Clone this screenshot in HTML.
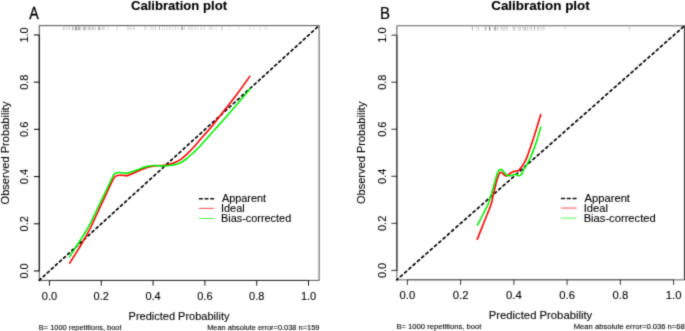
<!DOCTYPE html>
<html><head><meta charset="utf-8"><style>
html,body{margin:0;padding:0;background:#fff;overflow:hidden;}
svg{display:block;}
</style></head><body>
<svg width="685" height="331" viewBox="0 0 685 331" font-family='"Liberation Sans", sans-serif'>
<style>text{stroke:#000;stroke-width:0.1px;}</style>
<defs><filter id="bl" x="0" y="0" width="685" height="331" filterUnits="userSpaceOnUse" color-interpolation-filters="sRGB"><feConvolveMatrix order="3" kernelMatrix="0.0225 0.1050 0.0225 0.1050 0.4900 0.1050 0.0225 0.1050 0.0225" divisor="1" edgeMode="duplicate"/></filter></defs>
<g filter="url(#bl)">
<rect width="685" height="331" fill="#fff"/>
<g id="A">
<line x1="63.30" y1="26.50" x2="63.30" y2="30.30" stroke="#000" stroke-opacity="0.20" stroke-width="1"/>
<line x1="64.40" y1="26.50" x2="64.40" y2="30.30" stroke="#000" stroke-opacity="0.14" stroke-width="1"/>
<line x1="67.00" y1="26.50" x2="67.00" y2="30.30" stroke="#000" stroke-opacity="0.20" stroke-width="1"/>
<line x1="69.20" y1="26.50" x2="69.20" y2="30.30" stroke="#000" stroke-opacity="0.20" stroke-width="1"/>
<line x1="72.30" y1="26.50" x2="72.30" y2="30.30" stroke="#000" stroke-opacity="0.24" stroke-width="1"/>
<line x1="73.10" y1="26.50" x2="73.10" y2="30.30" stroke="#000" stroke-opacity="0.20" stroke-width="1"/>
<line x1="75.30" y1="26.50" x2="75.30" y2="30.30" stroke="#000" stroke-opacity="0.31" stroke-width="1"/>
<line x1="76.00" y1="26.50" x2="76.00" y2="30.30" stroke="#000" stroke-opacity="0.31" stroke-width="1"/>
<line x1="76.60" y1="26.50" x2="76.60" y2="30.30" stroke="#000" stroke-opacity="0.31" stroke-width="1"/>
<line x1="78.40" y1="26.50" x2="78.40" y2="30.30" stroke="#000" stroke-opacity="0.34" stroke-width="1"/>
<line x1="79.30" y1="26.50" x2="79.30" y2="30.30" stroke="#000" stroke-opacity="0.34" stroke-width="1"/>
<line x1="80.60" y1="26.50" x2="80.60" y2="30.30" stroke="#000" stroke-opacity="0.20" stroke-width="1"/>
<line x1="83.20" y1="26.50" x2="83.20" y2="30.30" stroke="#000" stroke-opacity="0.27" stroke-width="1"/>
<line x1="84.30" y1="26.50" x2="84.30" y2="30.30" stroke="#000" stroke-opacity="0.27" stroke-width="1"/>
<line x1="85.40" y1="26.50" x2="85.40" y2="30.30" stroke="#000" stroke-opacity="0.27" stroke-width="1"/>
<line x1="87.20" y1="26.50" x2="87.20" y2="30.30" stroke="#000" stroke-opacity="0.17" stroke-width="1"/>
<line x1="88.90" y1="26.50" x2="88.90" y2="30.30" stroke="#000" stroke-opacity="0.20" stroke-width="1"/>
<line x1="89.30" y1="26.50" x2="89.30" y2="30.30" stroke="#000" stroke-opacity="0.24" stroke-width="1"/>
<line x1="90.80" y1="26.50" x2="90.80" y2="30.30" stroke="#000" stroke-opacity="0.17" stroke-width="1"/>
<line x1="92.40" y1="26.50" x2="92.40" y2="30.30" stroke="#000" stroke-opacity="0.24" stroke-width="1"/>
<line x1="93.30" y1="26.50" x2="93.30" y2="30.30" stroke="#000" stroke-opacity="0.17" stroke-width="1"/>
<line x1="95.00" y1="26.50" x2="95.00" y2="30.30" stroke="#000" stroke-opacity="0.24" stroke-width="1"/>
<line x1="98.50" y1="26.50" x2="98.50" y2="30.30" stroke="#000" stroke-opacity="0.31" stroke-width="1"/>
<line x1="99.40" y1="26.50" x2="99.40" y2="30.30" stroke="#000" stroke-opacity="0.31" stroke-width="1"/>
<line x1="101.10" y1="26.50" x2="101.10" y2="30.30" stroke="#000" stroke-opacity="0.14" stroke-width="1"/>
<line x1="102.30" y1="26.50" x2="102.30" y2="30.30" stroke="#000" stroke-opacity="0.14" stroke-width="1"/>
<line x1="103.50" y1="26.50" x2="103.50" y2="30.30" stroke="#000" stroke-opacity="0.14" stroke-width="1"/>
<line x1="104.60" y1="26.50" x2="104.60" y2="30.30" stroke="#000" stroke-opacity="0.14" stroke-width="1"/>
<line x1="108.10" y1="26.50" x2="108.10" y2="30.30" stroke="#000" stroke-opacity="0.17" stroke-width="1"/>
<line x1="116.50" y1="26.50" x2="116.50" y2="30.30" stroke="#000" stroke-opacity="0.14" stroke-width="1"/>
<line x1="117.80" y1="26.50" x2="117.80" y2="30.30" stroke="#000" stroke-opacity="0.08" stroke-width="1"/>
<line x1="127.40" y1="26.50" x2="127.40" y2="30.30" stroke="#000" stroke-opacity="0.14" stroke-width="1"/>
<line x1="128.70" y1="26.50" x2="128.70" y2="30.30" stroke="#000" stroke-opacity="0.14" stroke-width="1"/>
<line x1="130.00" y1="26.50" x2="130.00" y2="30.30" stroke="#000" stroke-opacity="0.14" stroke-width="1"/>
<line x1="131.30" y1="26.50" x2="131.30" y2="30.30" stroke="#000" stroke-opacity="0.14" stroke-width="1"/>
<line x1="133.50" y1="26.50" x2="133.50" y2="30.30" stroke="#000" stroke-opacity="0.14" stroke-width="1"/>
<line x1="134.40" y1="26.50" x2="134.40" y2="30.30" stroke="#000" stroke-opacity="0.14" stroke-width="1"/>
<line x1="144.50" y1="26.50" x2="144.50" y2="30.30" stroke="#000" stroke-opacity="0.17" stroke-width="1"/>
<line x1="146.60" y1="26.50" x2="146.60" y2="30.30" stroke="#000" stroke-opacity="0.14" stroke-width="1"/>
<line x1="151.00" y1="26.50" x2="151.00" y2="30.30" stroke="#000" stroke-opacity="0.20" stroke-width="1"/>
<line x1="153.20" y1="26.50" x2="153.20" y2="30.30" stroke="#000" stroke-opacity="0.20" stroke-width="1"/>
<line x1="155.40" y1="26.50" x2="155.40" y2="30.30" stroke="#000" stroke-opacity="0.20" stroke-width="1"/>
<line x1="159.30" y1="26.50" x2="159.30" y2="30.30" stroke="#000" stroke-opacity="0.31" stroke-width="1"/>
<line x1="162.40" y1="26.50" x2="162.40" y2="30.30" stroke="#000" stroke-opacity="0.14" stroke-width="1"/>
<line x1="164.60" y1="26.50" x2="164.60" y2="30.30" stroke="#000" stroke-opacity="0.14" stroke-width="1"/>
<line x1="167.20" y1="26.50" x2="167.20" y2="30.30" stroke="#000" stroke-opacity="0.14" stroke-width="1"/>
<line x1="169.80" y1="26.50" x2="169.80" y2="30.30" stroke="#000" stroke-opacity="0.20" stroke-width="1"/>
<line x1="172.50" y1="26.50" x2="172.50" y2="30.30" stroke="#000" stroke-opacity="0.14" stroke-width="1"/>
<line x1="175.30" y1="26.50" x2="175.30" y2="30.30" stroke="#000" stroke-opacity="0.20" stroke-width="1"/>
<line x1="178.10" y1="26.50" x2="178.10" y2="30.30" stroke="#000" stroke-opacity="0.14" stroke-width="1"/>
<line x1="181.60" y1="26.50" x2="181.60" y2="30.30" stroke="#000" stroke-opacity="0.31" stroke-width="1"/>
<line x1="182.50" y1="26.50" x2="182.50" y2="30.30" stroke="#000" stroke-opacity="0.31" stroke-width="1"/>
<line x1="184.70" y1="26.50" x2="184.70" y2="30.30" stroke="#000" stroke-opacity="0.20" stroke-width="1"/>
<line x1="188.20" y1="26.50" x2="188.20" y2="30.30" stroke="#000" stroke-opacity="0.14" stroke-width="1"/>
<line x1="189.70" y1="26.50" x2="189.70" y2="30.30" stroke="#000" stroke-opacity="0.14" stroke-width="1"/>
<line x1="191.20" y1="26.50" x2="191.20" y2="30.30" stroke="#000" stroke-opacity="0.14" stroke-width="1"/>
<line x1="192.60" y1="26.50" x2="192.60" y2="30.30" stroke="#000" stroke-opacity="0.14" stroke-width="1"/>
<line x1="195.20" y1="26.50" x2="195.20" y2="30.30" stroke="#000" stroke-opacity="0.17" stroke-width="1"/>
<line x1="197.40" y1="26.50" x2="197.40" y2="30.30" stroke="#000" stroke-opacity="0.17" stroke-width="1"/>
<line x1="200.50" y1="26.50" x2="200.50" y2="30.30" stroke="#000" stroke-opacity="0.10" stroke-width="1"/>
<line x1="201.80" y1="26.50" x2="201.80" y2="30.30" stroke="#000" stroke-opacity="0.14" stroke-width="1"/>
<line x1="204.40" y1="26.50" x2="204.40" y2="30.30" stroke="#000" stroke-opacity="0.17" stroke-width="1"/>
<line x1="209.20" y1="26.50" x2="209.20" y2="30.30" stroke="#000" stroke-opacity="0.10" stroke-width="1"/>
<line x1="210.50" y1="26.50" x2="210.50" y2="30.30" stroke="#000" stroke-opacity="0.10" stroke-width="1"/>
<line x1="211.80" y1="26.50" x2="211.80" y2="30.30" stroke="#000" stroke-opacity="0.10" stroke-width="1"/>
<line x1="213.10" y1="26.50" x2="213.10" y2="30.30" stroke="#000" stroke-opacity="0.10" stroke-width="1"/>
<line x1="216.20" y1="26.50" x2="216.20" y2="30.30" stroke="#000" stroke-opacity="0.14" stroke-width="1"/>
<line x1="221.50" y1="26.50" x2="221.50" y2="30.30" stroke="#000" stroke-opacity="0.14" stroke-width="1"/>
<line x1="222.30" y1="26.50" x2="222.30" y2="30.30" stroke="#000" stroke-opacity="0.14" stroke-width="1"/>
<line x1="229.30" y1="26.50" x2="229.30" y2="30.30" stroke="#000" stroke-opacity="0.08" stroke-width="1"/>
<line x1="238.90" y1="26.50" x2="238.90" y2="30.30" stroke="#000" stroke-opacity="0.14" stroke-width="1"/>
<line x1="249.80" y1="26.50" x2="249.80" y2="30.30" stroke="#000" stroke-opacity="0.14" stroke-width="1"/>
<line x1="253.70" y1="26.50" x2="253.70" y2="30.30" stroke="#000" stroke-opacity="0.14" stroke-width="1"/>
<line x1="260.10" y1="26.50" x2="260.10" y2="30.30" stroke="#000" stroke-opacity="0.14" stroke-width="1"/>
<line x1="264.60" y1="26.50" x2="264.60" y2="30.30" stroke="#000" stroke-opacity="0.10" stroke-width="1"/>
<line x1="266.20" y1="26.50" x2="266.20" y2="30.30" stroke="#000" stroke-opacity="0.10" stroke-width="1"/>
<line x1="267.80" y1="26.50" x2="267.80" y2="30.30" stroke="#000" stroke-opacity="0.10" stroke-width="1"/>
<path d="M39.22 280.29L40.92 278.75 M43.29 276.59L44.99 275.04 M47.36 272.89L49.06 271.34 M51.43 269.18L53.13 267.64 M55.50 265.48L57.20 263.93 M59.56 261.78L61.27 260.23 M63.63 258.07L65.34 256.53 M67.70 254.37L69.41 252.82 M71.77 250.67L73.48 249.12 M75.84 246.96L77.54 245.42 M79.91 243.26L81.61 241.71 M83.98 239.56L85.68 238.01 M88.05 235.85L89.75 234.31 M92.12 232.15L93.82 230.60 M96.19 228.45L97.89 226.90 M100.26 224.74L101.96 223.19 M104.33 221.04L106.03 219.49 M108.40 217.34L110.10 215.79 M112.47 213.63L114.17 212.08 M116.54 209.93L118.24 208.38 M120.61 206.23L122.31 204.68 M124.68 202.52L126.38 200.97 M128.86 198.72L130.56 197.17 M133.04 194.92L134.74 193.37 M137.22 191.11L138.92 189.56 M141.40 187.31L143.10 185.76 M145.58 183.50L147.28 181.96 M149.76 179.70L151.46 178.15 M153.94 175.90L155.64 174.35 M158.12 172.09L159.82 170.55 M162.30 168.29L164.00 166.74 M166.48 164.49L168.18 162.94 M170.66 160.68L172.36 159.14 M174.84 156.88L176.54 155.33 M179.02 153.08L180.72 151.53 M183.20 149.27L184.90 147.73 M187.38 145.47L189.08 143.92 M191.55 141.67L193.26 140.12 M195.73 137.86L197.44 136.31 M199.91 134.06L201.62 132.51 M204.09 130.26L205.80 128.71 M208.27 126.45L209.97 124.90 M212.45 122.65L214.15 121.10 M216.63 118.84L218.33 117.30 M220.81 115.04L222.51 113.49 M224.99 111.24L226.69 109.69 M229.17 107.43L230.87 105.89 M233.35 103.63L235.05 102.08 M237.53 99.83L239.23 98.28 M241.71 96.02L243.41 94.48 M245.89 92.22L247.59 90.67 M250.07 88.42L251.77 86.87 M254.25 84.61L255.95 83.07 M258.43 80.81L260.13 79.26 M262.52 77.09L264.22 75.54 M266.61 73.37L268.31 71.82 M270.70 69.64L272.40 68.10 M274.79 65.92L276.49 64.37 M278.88 62.20L280.58 60.65 M282.97 58.48L284.67 56.93 M287.06 54.76L288.76 53.21 M291.15 51.03L292.85 49.49 M295.24 47.31L296.94 45.76 M299.33 43.59L301.03 42.04 M303.42 39.87L305.12 38.32 M307.51 36.15L309.21 34.60 M311.60 32.42L313.30 30.88 M315.69 28.70L317.39 27.15" fill="none" stroke="#000" stroke-width="1.7" stroke-linecap="round"/>
<path d="M69.30 263.70 C71.00 260.97 76.15 252.92 79.50 247.30 C82.85 241.68 86.27 236.05 89.40 230.00 C92.53 223.95 95.33 217.33 98.30 211.00 C101.27 204.67 104.63 197.45 107.20 192.00 C109.77 186.55 112.00 181.03 113.70 178.30 C115.40 175.57 116.02 176.10 117.40 175.60 C118.78 175.10 120.22 175.33 122.00 175.30 C123.78 175.27 125.57 176.03 128.10 175.40 C130.63 174.77 134.17 172.78 137.20 171.50 C140.23 170.22 143.43 168.62 146.30 167.70 C149.17 166.78 151.38 166.42 154.40 166.00 C157.42 165.58 161.58 165.57 164.40 165.20 C167.22 164.83 168.90 164.57 171.30 163.80 C173.70 163.03 176.32 162.10 178.80 160.60 C181.28 159.10 183.73 157.02 186.20 154.80 C188.67 152.58 191.30 149.80 193.60 147.30 C195.90 144.80 196.85 143.45 200.00 139.80 C203.15 136.15 208.33 130.45 212.50 125.40 C216.67 120.35 220.83 114.83 225.00 109.50 C229.17 104.17 233.30 99.00 237.50 93.40 C241.70 87.80 248.08 78.82 250.20 75.90" fill="none" stroke="#ff0000" stroke-width="1.6" stroke-linejoin="round" stroke-linecap="butt"/>
<path d="M69.20 257.20 C70.00 256.02 72.23 252.80 74.00 250.10 C75.77 247.40 77.88 244.02 79.80 241.00 C81.72 237.98 83.63 235.17 85.50 232.00 C87.37 228.83 89.20 225.50 91.00 222.00 C92.80 218.50 93.88 216.00 96.30 211.00 C98.72 206.00 102.73 197.78 105.50 192.00 C108.27 186.22 111.28 179.43 112.90 176.30 C114.52 173.17 114.27 173.83 115.20 173.20 C116.13 172.57 116.35 172.53 118.50 172.50 C120.65 172.47 124.98 173.45 128.10 173.00 C131.22 172.55 134.17 170.87 137.20 169.80 C140.23 168.73 143.43 167.32 146.30 166.60 C149.17 165.88 151.98 165.62 154.40 165.50 C156.82 165.38 159.03 165.83 160.80 165.90 C162.57 165.97 163.25 166.00 165.00 165.90 C166.75 165.80 169.00 165.68 171.30 165.30 C173.60 164.92 176.32 164.65 178.80 163.60 C181.28 162.55 183.57 161.00 186.20 159.00 C188.83 157.00 192.30 153.72 194.60 151.60 C196.90 149.48 198.40 147.98 200.00 146.30 C201.60 144.62 201.70 144.33 204.20 141.50 C206.70 138.67 210.70 134.15 215.00 129.30 C219.30 124.45 224.07 119.23 230.00 112.40 C235.93 105.57 247.17 92.32 250.60 88.30" fill="none" stroke="#00f000" stroke-width="1.6" stroke-linejoin="round" stroke-linecap="butt"/>
<text x="179.00" y="9.5" font-size="13.1" font-weight="bold" text-anchor="middle" fill="#000">Calibration plot</text>
<rect x="39.30" y="25.60" width="279.80" height="254.80" fill="none" stroke="#000" stroke-opacity="0.66" stroke-width="1.05"/>
<path d="M49.46 280.40H308.53" fill="none" stroke="#000" stroke-opacity="0.55" stroke-width="1.05"/>
<path d="M39.30 270.96V34.96" fill="none" stroke="#000" stroke-opacity="0.80" stroke-width="1.2"/>
<line x1="49.46" y1="280.40" x2="49.46" y2="285.70" stroke="#000" stroke-opacity="0.92" stroke-width="1.0"/>
<text x="49.46" y="299.8" font-size="11" text-anchor="middle" fill="#000">0.0</text>
<line x1="101.27" y1="280.40" x2="101.27" y2="285.70" stroke="#000" stroke-opacity="0.92" stroke-width="1.0"/>
<text x="101.27" y="299.8" font-size="11" text-anchor="middle" fill="#000">0.2</text>
<line x1="153.09" y1="280.40" x2="153.09" y2="285.70" stroke="#000" stroke-opacity="0.92" stroke-width="1.0"/>
<text x="153.09" y="299.8" font-size="11" text-anchor="middle" fill="#000">0.4</text>
<line x1="204.90" y1="280.40" x2="204.90" y2="285.70" stroke="#000" stroke-opacity="0.92" stroke-width="1.0"/>
<text x="204.90" y="299.8" font-size="11" text-anchor="middle" fill="#000">0.6</text>
<line x1="256.72" y1="280.40" x2="256.72" y2="285.70" stroke="#000" stroke-opacity="0.92" stroke-width="1.0"/>
<text x="256.72" y="299.8" font-size="11" text-anchor="middle" fill="#000">0.8</text>
<line x1="308.53" y1="280.40" x2="308.53" y2="285.70" stroke="#000" stroke-opacity="0.92" stroke-width="1.0"/>
<text x="308.53" y="299.8" font-size="11" text-anchor="middle" fill="#000">1.0</text>
<line x1="33.90" y1="270.96" x2="39.30" y2="270.96" stroke="#000" stroke-opacity="0.92" stroke-width="1.1"/>
<text transform="translate(28.4 270.96) rotate(-90)" font-size="11" text-anchor="middle" fill="#000">0.0</text>
<line x1="33.90" y1="223.76" x2="39.30" y2="223.76" stroke="#000" stroke-opacity="0.92" stroke-width="1.1"/>
<text transform="translate(28.4 223.76) rotate(-90)" font-size="11" text-anchor="middle" fill="#000">0.2</text>
<line x1="33.90" y1="176.56" x2="39.30" y2="176.56" stroke="#000" stroke-opacity="0.92" stroke-width="1.1"/>
<text transform="translate(28.4 176.56) rotate(-90)" font-size="11" text-anchor="middle" fill="#000">0.4</text>
<line x1="33.90" y1="129.36" x2="39.30" y2="129.36" stroke="#000" stroke-opacity="0.92" stroke-width="1.1"/>
<text transform="translate(28.4 129.36) rotate(-90)" font-size="11" text-anchor="middle" fill="#000">0.6</text>
<line x1="33.90" y1="82.16" x2="39.30" y2="82.16" stroke="#000" stroke-opacity="0.92" stroke-width="1.1"/>
<text transform="translate(28.4 82.16) rotate(-90)" font-size="11" text-anchor="middle" fill="#000">0.8</text>
<line x1="33.90" y1="34.96" x2="39.30" y2="34.96" stroke="#000" stroke-opacity="0.92" stroke-width="1.1"/>
<text transform="translate(28.4 34.96) rotate(-90)" font-size="11" text-anchor="middle" fill="#000">1.0</text>
<text x="179.00" y="319.8" font-size="11" text-anchor="middle" fill="#000">Predicted Probability</text>
<text transform="translate(8.5 153.00) rotate(-90)" font-size="11.1" text-anchor="middle" fill="#000">Observed Probability</text>
<line x1="199.4" y1="198.8" x2="213.6" y2="198.8" stroke="#111" stroke-width="1.5" stroke-linecap="round" stroke-dasharray="2.9 2.75"/>
<line x1="198.9" y1="208.4" x2="214.2" y2="208.4" stroke="#ff3030" stroke-opacity="0.85" stroke-width="1"/>
<line x1="198.9" y1="218.5" x2="214.2" y2="218.5" stroke="#30ff30" stroke-opacity="0.85" stroke-width="1"/>
<text x="221.9" y="202.4" font-size="10.9" fill="#000">Apparent</text>
<text x="221.0" y="212.2" font-size="10.9" fill="#000">Ideal</text>
<text x="221.0" y="222.2" font-size="10.9" fill="#000">Bias-corrected</text>
<text transform="translate(38.8 329.5) scale(0.917 1)" font-size="8.1" fill="#000">B= 1000 repetitions, boot</text>
<text transform="translate(319.40 329.5) scale(0.917 1)" font-size="8.1" text-anchor="end" fill="#000">Mean absolute error=0.038 n=159</text>
</g>
<g transform="translate(396.75 25.7) scale(1.0275 0.997) translate(-39.1 -25.5)">
<line x1="112.73" y1="26.50" x2="112.73" y2="30.30" stroke="#000" stroke-opacity="0.32" stroke-width="1"/>
<line x1="117.01" y1="26.50" x2="117.01" y2="30.30" stroke="#000" stroke-opacity="0.16" stroke-width="1"/>
<line x1="118.66" y1="26.50" x2="118.66" y2="30.30" stroke="#000" stroke-opacity="0.20" stroke-width="1"/>
<line x1="125.09" y1="26.50" x2="125.09" y2="30.30" stroke="#000" stroke-opacity="0.24" stroke-width="1"/>
<line x1="125.96" y1="26.50" x2="125.96" y2="30.30" stroke="#000" stroke-opacity="0.24" stroke-width="1"/>
<line x1="129.37" y1="26.50" x2="129.37" y2="30.30" stroke="#000" stroke-opacity="0.36" stroke-width="1"/>
<line x1="129.76" y1="26.50" x2="129.76" y2="30.30" stroke="#000" stroke-opacity="0.36" stroke-width="1"/>
<line x1="134.04" y1="26.50" x2="134.04" y2="30.30" stroke="#000" stroke-opacity="0.36" stroke-width="1"/>
<line x1="135.30" y1="26.50" x2="135.30" y2="30.30" stroke="#000" stroke-opacity="0.36" stroke-width="1"/>
<line x1="137.45" y1="26.50" x2="137.45" y2="30.30" stroke="#000" stroke-opacity="0.24" stroke-width="1"/>
<line x1="140.85" y1="26.50" x2="140.85" y2="30.30" stroke="#000" stroke-opacity="0.20" stroke-width="1"/>
<line x1="142.51" y1="26.50" x2="142.51" y2="30.30" stroke="#000" stroke-opacity="0.20" stroke-width="1"/>
<line x1="144.26" y1="26.50" x2="144.26" y2="30.30" stroke="#000" stroke-opacity="0.20" stroke-width="1"/>
<line x1="146.40" y1="26.50" x2="146.40" y2="30.30" stroke="#000" stroke-opacity="0.28" stroke-width="1"/>
<line x1="152.34" y1="26.50" x2="152.34" y2="30.30" stroke="#000" stroke-opacity="0.16" stroke-width="1"/>
<line x1="153.21" y1="26.50" x2="153.21" y2="30.30" stroke="#000" stroke-opacity="0.16" stroke-width="1"/>
<line x1="153.99" y1="26.50" x2="153.99" y2="30.30" stroke="#000" stroke-opacity="0.16" stroke-width="1"/>
<line x1="157.88" y1="26.50" x2="157.88" y2="30.30" stroke="#000" stroke-opacity="0.28" stroke-width="1"/>
<line x1="159.54" y1="26.50" x2="159.54" y2="30.30" stroke="#000" stroke-opacity="0.20" stroke-width="1"/>
<line x1="162.17" y1="26.50" x2="162.17" y2="30.30" stroke="#000" stroke-opacity="0.20" stroke-width="1"/>
<line x1="163.82" y1="26.50" x2="163.82" y2="30.30" stroke="#000" stroke-opacity="0.20" stroke-width="1"/>
<line x1="164.21" y1="26.50" x2="164.21" y2="30.30" stroke="#000" stroke-opacity="0.24" stroke-width="1"/>
<line x1="166.35" y1="26.50" x2="166.35" y2="30.30" stroke="#000" stroke-opacity="0.24" stroke-width="1"/>
<line x1="168.49" y1="26.50" x2="168.49" y2="30.30" stroke="#000" stroke-opacity="0.12" stroke-width="1"/>
<line x1="170.15" y1="26.50" x2="170.15" y2="30.30" stroke="#000" stroke-opacity="0.24" stroke-width="1"/>
<line x1="173.16" y1="26.50" x2="173.16" y2="30.30" stroke="#000" stroke-opacity="0.32" stroke-width="1"/>
<line x1="176.18" y1="26.50" x2="176.18" y2="30.30" stroke="#000" stroke-opacity="0.20" stroke-width="1"/>
<line x1="177.45" y1="26.50" x2="177.45" y2="30.30" stroke="#000" stroke-opacity="0.20" stroke-width="1"/>
<line x1="179.59" y1="26.50" x2="179.59" y2="30.30" stroke="#000" stroke-opacity="0.12" stroke-width="1"/>
<line x1="180.75" y1="26.50" x2="180.75" y2="30.30" stroke="#000" stroke-opacity="0.12" stroke-width="1"/>
<line x1="181.92" y1="26.50" x2="181.92" y2="30.30" stroke="#000" stroke-opacity="0.12" stroke-width="1"/>
<line x1="182.99" y1="26.50" x2="182.99" y2="30.30" stroke="#000" stroke-opacity="0.12" stroke-width="1"/>
<line x1="202.75" y1="26.50" x2="202.75" y2="30.30" stroke="#000" stroke-opacity="0.16" stroke-width="1"/>
<line x1="265.43" y1="26.50" x2="265.43" y2="30.30" stroke="#000" stroke-opacity="0.20" stroke-width="1"/>
<path d="M39.10 280.40L40.22 279.38 M42.69 277.14L44.39 275.59 M46.85 273.35L48.55 271.80 M51.02 269.56L52.72 268.01 M55.18 265.77L56.88 264.22 M59.34 261.98L61.04 260.43 M63.51 258.19L65.21 256.64 M67.67 254.40L69.37 252.85 M71.83 250.61L73.54 249.06 M76.00 246.82L77.70 245.27 M80.16 243.03L81.86 241.48 M84.33 239.24L86.03 237.70 M88.49 235.45L90.19 233.91 M92.65 231.67L94.36 230.12 M96.82 227.88L98.52 226.33 M100.98 224.09L102.68 222.54 M105.15 220.30L106.85 218.75 M109.31 216.51L111.01 214.96 M113.47 212.72L115.18 211.17 M117.64 208.93L119.34 207.38 M121.80 205.14L123.50 203.59 M125.97 201.35L127.67 199.80 M130.13 197.56L131.83 196.01 M134.29 193.77L136.00 192.22 M138.46 189.98L140.16 188.44 M142.62 186.19L144.32 184.65 M146.79 182.41L148.49 180.86 M150.95 178.62L152.65 177.07 M155.11 174.83L156.82 173.28 M159.28 171.04L160.98 169.49 M163.44 167.25L165.14 165.70 M167.61 163.46L169.31 161.91 M171.77 159.67L173.47 158.12 M175.93 155.88L177.64 154.33 M180.10 152.09L181.80 150.54 M184.26 148.30L185.96 146.75 M188.43 144.51L190.13 142.97 M192.59 140.72L194.29 139.18 M196.75 136.93L198.46 135.39 M200.92 133.15L202.62 131.60 M205.08 129.36L206.78 127.81 M209.25 125.57L210.95 124.02 M213.41 121.78L215.11 120.23 M217.57 117.99L219.28 116.44 M221.74 114.20L223.44 112.65 M225.90 110.41L227.60 108.86 M230.07 106.62L231.77 105.07 M234.23 102.83L235.93 101.28 M238.39 99.04L240.10 97.49 M242.56 95.25L244.26 93.71 M246.72 91.46L248.42 89.92 M250.89 87.67L252.59 86.13 M254.97 83.95L256.68 82.41 M259.06 80.23L260.76 78.69 M263.15 76.51L264.85 74.97 M267.24 72.79L268.94 71.25 M271.33 69.07L273.03 67.53 M275.41 65.35L277.12 63.81 M279.50 61.63L281.20 60.09 M283.59 57.91L285.29 56.37 M287.68 54.19L289.38 52.65 M291.77 50.47L293.47 48.93 M295.85 46.75L297.56 45.21 M299.94 43.03L301.64 41.49 M304.03 39.31L305.73 37.77 M308.12 35.59L309.82 34.05 M312.21 31.87L313.91 30.33 M316.29 28.15L318.00 26.61" fill="none" stroke="#000" stroke-width="1.7" stroke-linecap="round"/>
<text x="179.00" y="9.5" font-size="13.1" font-weight="bold" text-anchor="middle" fill="#000">Calibration plot</text>
<rect x="39.25" y="25.60" width="279.85" height="254.80" fill="none" stroke="#000" stroke-opacity="0.60" stroke-width="1.05"/>
<path d="M49.46 280.40H308.53" fill="none" stroke="#000" stroke-opacity="0.40" stroke-width="1.05"/>
<path d="M319.1 25.6V280.4" stroke="#000" stroke-opacity="0.3" stroke-width="1"/>
<path d="M39.25 270.96V34.96" fill="none" stroke="#000" stroke-opacity="0.65" stroke-width="1.2"/>
<line x1="49.46" y1="280.40" x2="49.46" y2="285.70" stroke="#000" stroke-opacity="0.75" stroke-width="1.0"/>
<text x="49.46" y="299.8" font-size="11" text-anchor="middle" fill="#000">0.0</text>
<line x1="101.27" y1="280.40" x2="101.27" y2="285.70" stroke="#000" stroke-opacity="0.75" stroke-width="1.0"/>
<text x="101.27" y="299.8" font-size="11" text-anchor="middle" fill="#000">0.2</text>
<line x1="153.09" y1="280.40" x2="153.09" y2="285.70" stroke="#000" stroke-opacity="0.75" stroke-width="1.0"/>
<text x="153.09" y="299.8" font-size="11" text-anchor="middle" fill="#000">0.4</text>
<line x1="204.90" y1="280.40" x2="204.90" y2="285.70" stroke="#000" stroke-opacity="0.75" stroke-width="1.0"/>
<text x="204.90" y="299.8" font-size="11" text-anchor="middle" fill="#000">0.6</text>
<line x1="256.72" y1="280.40" x2="256.72" y2="285.70" stroke="#000" stroke-opacity="0.75" stroke-width="1.0"/>
<text x="256.72" y="299.8" font-size="11" text-anchor="middle" fill="#000">0.8</text>
<line x1="308.53" y1="280.40" x2="308.53" y2="285.70" stroke="#000" stroke-opacity="0.75" stroke-width="1.0"/>
<text x="308.53" y="299.8" font-size="11" text-anchor="middle" fill="#000">1.0</text>
<line x1="33.85" y1="270.96" x2="39.25" y2="270.96" stroke="#000" stroke-opacity="0.75" stroke-width="1.1"/>
<text transform="translate(28.4 270.96) rotate(-90)" font-size="11" text-anchor="middle" fill="#000">0.0</text>
<line x1="33.85" y1="223.76" x2="39.25" y2="223.76" stroke="#000" stroke-opacity="0.75" stroke-width="1.1"/>
<text transform="translate(28.4 223.76) rotate(-90)" font-size="11" text-anchor="middle" fill="#000">0.2</text>
<line x1="33.85" y1="176.56" x2="39.25" y2="176.56" stroke="#000" stroke-opacity="0.75" stroke-width="1.1"/>
<text transform="translate(28.4 176.56) rotate(-90)" font-size="11" text-anchor="middle" fill="#000">0.4</text>
<line x1="33.85" y1="129.36" x2="39.25" y2="129.36" stroke="#000" stroke-opacity="0.75" stroke-width="1.1"/>
<text transform="translate(28.4 129.36) rotate(-90)" font-size="11" text-anchor="middle" fill="#000">0.6</text>
<line x1="33.85" y1="82.16" x2="39.25" y2="82.16" stroke="#000" stroke-opacity="0.75" stroke-width="1.1"/>
<text transform="translate(28.4 82.16) rotate(-90)" font-size="11" text-anchor="middle" fill="#000">0.8</text>
<line x1="33.85" y1="34.96" x2="39.25" y2="34.96" stroke="#000" stroke-opacity="0.75" stroke-width="1.1"/>
<text transform="translate(28.4 34.96) rotate(-90)" font-size="11" text-anchor="middle" fill="#000">1.0</text>
<text x="179.00" y="319.8" font-size="11" text-anchor="middle" fill="#000">Predicted Probability</text>
<text transform="translate(8.5 153.00) rotate(-90)" font-size="11.1" text-anchor="middle" fill="#000">Observed Probability</text>
<line x1="199.4" y1="198.8" x2="213.6" y2="198.8" stroke="#111" stroke-width="1.5" stroke-linecap="round" stroke-dasharray="2.9 2.75"/>
<line x1="198.9" y1="208.4" x2="214.2" y2="208.4" stroke="#ff3030" stroke-opacity="0.85" stroke-width="1"/>
<line x1="198.9" y1="218.5" x2="214.2" y2="218.5" stroke="#30ff30" stroke-opacity="0.85" stroke-width="1"/>
<text x="221.9" y="202.4" font-size="10.9" fill="#000">Apparent</text>
<text x="221.0" y="212.2" font-size="10.9" fill="#000">Ideal</text>
<text x="221.0" y="222.2" font-size="10.9" fill="#000">Bias-corrected</text>
<text transform="translate(38.8 329.5) scale(0.917 1)" font-size="8.1" fill="#000">B= 1000 repetitions, boot</text>
<text transform="translate(319.40 329.5) scale(0.917 1)" font-size="8.1" text-anchor="end" fill="#000">Mean absolute error=0.036 n=68</text>
</g>
<path d="M477.00 239.90 C478.17 236.97 481.63 228.28 484.00 222.30 C486.37 216.32 489.69 208.48 491.20 204.00 C492.71 199.52 492.43 198.05 493.05 195.40 C493.67 192.75 494.29 190.52 494.90 188.10 C495.51 185.68 496.10 183.00 496.70 180.90 C497.30 178.80 497.90 176.92 498.50 175.50 C499.10 174.08 499.70 172.83 500.30 172.40 C500.90 171.97 501.37 172.40 502.10 172.90 C502.83 173.40 503.88 174.93 504.70 175.40 C505.52 175.88 506.08 176.10 507.00 175.75 C507.92 175.40 509.07 174.01 510.20 173.30 C511.33 172.59 512.75 171.88 513.80 171.50 C514.85 171.12 515.67 171.20 516.50 171.00 C517.33 170.80 517.97 170.97 518.80 170.30 C519.63 169.63 520.77 167.95 521.50 167.00 C522.23 166.05 522.35 166.08 523.20 164.60 C524.05 163.12 525.50 160.68 526.60 158.10 C527.70 155.52 528.74 152.12 529.80 149.10 C530.86 146.08 531.80 143.52 532.95 140.00 C534.10 136.48 535.38 132.33 536.70 128.00 C538.03 123.67 540.20 116.33 540.90 114.00" fill="none" stroke="#ff0000" stroke-width="1.6" stroke-linejoin="round" stroke-linecap="butt"/>
<path d="M477.25 225.60 C478.21 223.75 481.18 218.10 483.00 214.50 C484.82 210.90 486.83 207.28 488.20 204.00 C489.57 200.72 490.29 197.75 491.20 194.80 C492.11 191.85 492.83 189.22 493.65 186.30 C494.47 183.38 495.39 179.72 496.10 177.30 C496.81 174.88 497.20 173.12 497.90 171.80 C498.60 170.48 499.53 169.63 500.30 169.40 C501.07 169.17 501.80 169.87 502.50 170.40 C503.20 170.93 503.83 171.83 504.50 172.60 C505.17 173.37 505.70 174.47 506.50 175.00 C507.30 175.53 508.23 175.78 509.30 175.75 C510.37 175.72 511.85 175.06 512.90 174.80 C513.95 174.54 514.77 174.08 515.60 174.20 C516.43 174.32 517.22 175.27 517.90 175.50 C518.58 175.73 519.10 175.82 519.70 175.60 C520.30 175.38 520.82 175.18 521.50 174.20 C522.18 173.22 522.95 171.23 523.80 169.70 C524.65 168.17 525.53 166.93 526.60 165.00 C527.67 163.07 528.99 160.75 530.20 158.10 C531.41 155.45 532.72 152.12 533.85 149.10 C534.98 146.08 535.83 143.75 537.00 140.00 C538.17 136.25 540.25 128.83 540.90 126.60" fill="none" stroke="#00f000" stroke-width="1.6" stroke-linejoin="round" stroke-linecap="butt"/>
<text transform="translate(29.2 18.6) scale(0.83 1)" font-size="17.2" fill="#000" style="stroke-width:0.35px">A</text>
<text transform="translate(380.1 19) scale(0.9 1)" font-size="16.7" fill="#000" style="stroke-width:0.25px">B</text>
</g>
</svg>
</body></html>
